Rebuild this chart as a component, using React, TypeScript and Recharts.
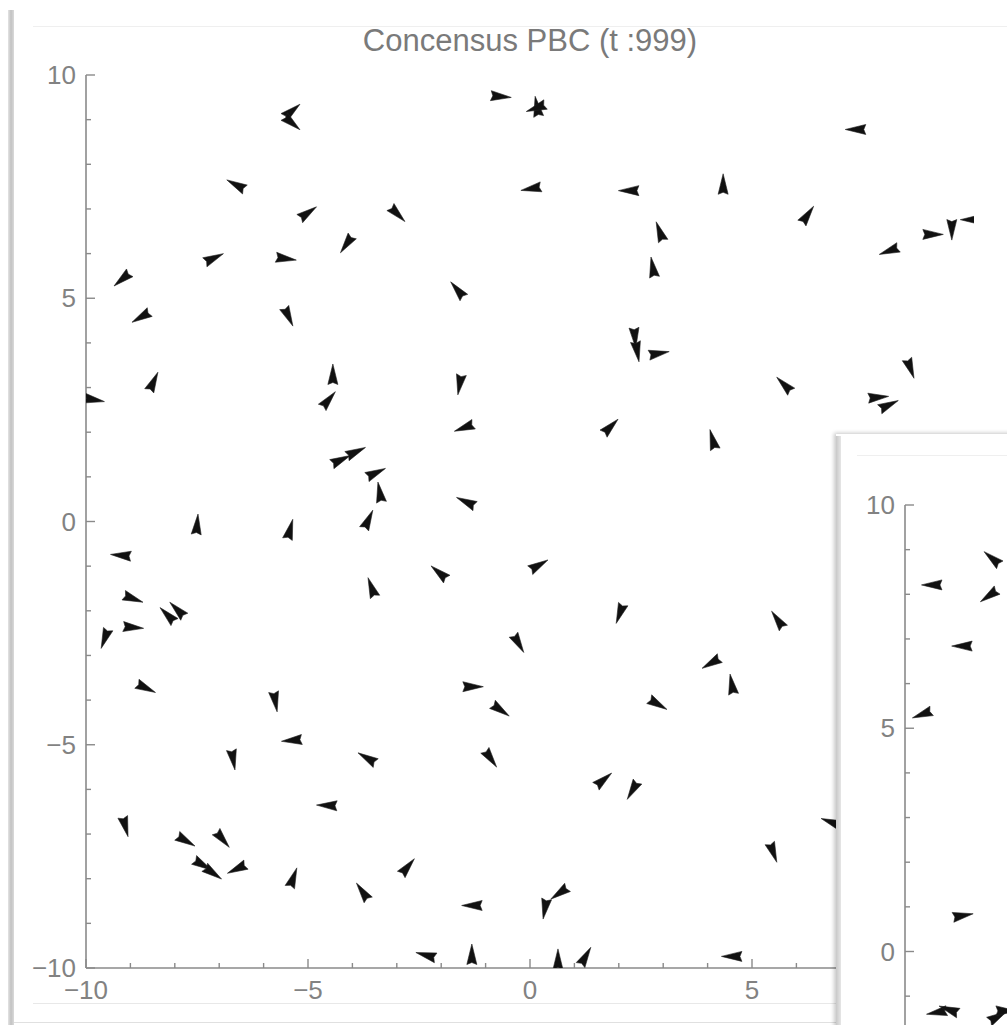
import React from 'react';
import { ScatterChart, Scatter, XAxis, YAxis } from 'recharts';

// ---- main panel (t : 999) ----
const mainX = [
  -5.38, -5.38, -6.6, -7.14, -5.52, -9.17, -8.74, -5.45, -5.02, -0.68,
  0.16, 0.16, 0.05, -3.0, -4.12, -1.62, 7.36, 2.25, 4.35, 6.24,
  2.93, 2.77, 8.11, 9.05, 9.5, 9.95, 2.36, 2.41, 2.88, 5.74,
  8.56, 7.82, 8.06, 1.8, 4.12, -8.49, -9.84, -7.5, -5.41, -9.19,
  -8.96, -8.15, -7.93, -8.96, -9.57, -8.67, -5.74, -4.44, -4.55, -1.58,
  -1.46, -4.28, -3.94, -3.49, -3.38, -3.65, -1.42, -2.03, 0.18, -3.56,
  -0.27, -1.31, -6.69, -5.34, -9.12, -7.77, -6.94, -7.39, -7.16, -6.58,
  -5.34, -0.68, -3.65, -0.9, -4.55, -2.77, -3.76, -1.28, 0.34, 0.68,
  -2.32, -1.31, 0.63, 1.24, 1.64, 2.32, 2.03, 5.59, 4.1, 4.55,
  2.86, 5.47, 4.57, 6.8,
];
const mainY = [
  9.18, 8.94, 7.53, 5.89, 5.89, 5.44, 4.59, 4.61, 6.9, 9.52,
  9.27, 9.27, 7.46, 6.9, 6.23, 5.17, 8.78, 7.41, 7.53, 6.85,
  6.47, 5.67, 6.07, 6.43, 6.56, 6.76, 4.14, 3.83, 3.76, 3.05,
  3.45, 2.78, 2.6, 2.11, 1.81, 3.11, 2.73, -0.09, -0.2, -0.76,
  -1.72, -2.11, -1.99, -2.37, -2.6, -3.72, -4.01, 3.27, 2.71, 3.09,
  2.11, 1.37, 1.55, 1.08, 0.63, 0.02, 0.43, -1.16, -0.99, -1.5,
  -2.71, -3.7, -5.31, -4.9, -6.81, -7.14, -7.1, -7.68, -7.86, -7.77,
  -8.0, -4.21, -5.31, -5.29, -6.36, -7.75, -8.31, -8.6, -8.65, -8.31,
  -9.72, -9.72, -9.83, -9.76, -5.8, -6.0, -2.04, -2.22, -3.16, -3.67,
  -4.08, -7.39, -9.74, -6.74,
];
// heading in degrees (0 = +x, 90 = +y), from the wide end to the pointed end
const mainHeading = [
  40, -40, 152, 25, -8, 220, 210, -65, 35, -5,
  100, 200, 190, -45, 235, 130, 180, 180, 90, 55,
  110, 100, 200, 0, -90, 180, -85, -80, 10, 135,
  -70, 5, 25, 45, 105, 65, -10, 85, 75, 175,
  -20, 135, 135, -5, -110, -25, -80, 90, 50, -100,
  200, 25, 25, 25, 100, 65, 155, 140, 30, 110,
  -60, 0, -80, 185, -75, -30, -50, -30, -35, 205,
  70, -35, 150, -55, 178, 50, 125, 180, -100, 215,
  165, 90, 90, 60, 40, 240, -110, 125, 210, 100,
  -30, -70, 180, 160,
];

// ---- second (overlapping) panel ----
const insetX = [-9.37, -8.02, -8.09, -8.69, -9.59, -8.72, -9.26, -8.99, -7.93, -7.75];
const insetY = [8.21, 8.79, 7.98, 6.84, 5.32, 0.8, -1.36, -1.31, -1.47, -1.33];
const insetHeading = [180, 140, 215, 180, 200, 10, 190, 160, 30, 0];

const frameTicks = [-10, -9, -8, -7, -6, -5, -4, -3, -2, -1, 0, 1, 2, 3, 4, 5, 6, 7, 8, 9, 10];
const majorTicks = [-10, -5, 0, 5, 10];
// labels that are visible (the rest are hidden under the second window / outside the page)
const mainXLabels = [-10, -5, 0, 5];
const mainYLabels = [-10, -5, 0, 5, 10];
const insetXLabels: number[] = [];
const insetYLabels = [0, 5, 10];
const titleText = 'Concensus PBC (t :999)';

const FRAME = '#8a8a8a';
const LABEL = '#828282';
const FONT = '"Liberation Sans", Arial, Helvetica, sans-serif';
const LABEL_SIZE = 26;

const zip = (xs: number[], ys: number[], hs: number[]) =>
  xs.map((x, i) => ({ x, y: ys[i], h: hs[i] }));

const mainData = zip(mainX, mainY, mainHeading);
const insetData = zip(insetX, insetY, insetHeading);

const fmt = (v: number) => (v < 0 ? '\u2212' + Math.abs(v) : String(v));
const isMajor = (v: number) => majorTicks.includes(v);

const Glyph = (props: any) => {
  const { cx, cy, payload } = props;
  if (cx == null || cy == null) return null;
  const t = (payload.h * Math.PI) / 180;
  const ux = Math.cos(t);
  const uy = -Math.sin(t);
  const px = -uy;
  const py = ux;
  const tip = 11.5;
  const back = 9;
  const half = 5;
  const notch = 7;
  const pts = [
    [cx + ux * tip, cy + uy * tip],
    [cx - ux * back + px * half, cy - uy * back + py * half],
    [cx - ux * notch, cy - uy * notch],
    [cx - ux * back - px * half, cy - uy * back - py * half],
  ];
  return (
    <polygon
      points={pts.map((p) => p.map((n) => n.toFixed(2)).join(',')).join(' ')}
      fill="#111"
      stroke="#222"
      strokeWidth={0.6}
      strokeLinejoin="round"
    />
  );
};

const makeBottomTick = (labels: number[]) => (props: any) => {
  const { x, y, payload } = props;
  const v = payload.value;
  const major = isMajor(v);
  return (
    <g>
      <line x1={x} x2={x} y1={y} y2={y - (major ? 9 : 5)} stroke={FRAME} strokeWidth={1.4} />
      {labels.includes(v) ? (
        <text x={x} y={y + 31} textAnchor="middle" fill={LABEL} fontSize={LABEL_SIZE} fontFamily={FONT}>
          {fmt(v)}
        </text>
      ) : null}
    </g>
  );
};

const TopTick = (props: any) => {
  const { x, y, payload } = props;
  const major = isMajor(payload.value);
  return <line x1={x} x2={x} y1={y} y2={y + (major ? 9 : 5)} stroke={FRAME} strokeWidth={1.4} />;
};

const makeLeftTick = (labels: number[]) => (props: any) => {
  const { x, y, payload } = props;
  const v = payload.value;
  const major = isMajor(v);
  return (
    <g>
      <line x1={x} x2={x + (major ? 9 : 5)} y1={y} y2={y} stroke={FRAME} strokeWidth={1.4} />
      {labels.includes(v) ? (
        <text x={x - 10} y={y + 9} textAnchor="end" fill={LABEL} fontSize={LABEL_SIZE} fontFamily={FONT}>
          {fmt(v)}
        </text>
      ) : null}
    </g>
  );
};

const RightTick = (props: any) => {
  const { x, y, payload } = props;
  const major = isMajor(payload.value);
  return <line x1={x} x2={x - (major ? 9 : 5)} y1={y} y2={y} stroke={FRAME} strokeWidth={1.4} />;
};

const axisLine = { stroke: FRAME, strokeWidth: 1.6 };

const Panel = ({
  data,
  left,
  top,
  xLabels,
  yLabels,
}: {
  data: any[];
  left: number;
  top: number;
  xLabels: number[];
  yLabels: number[];
}) => (
  <div style={{ position: 'absolute', left, top }}>
    <ScatterChart width={1007} height={1025} margin={{ top: 75, right: 33, bottom: 17, left: 26 }}>
      <XAxis
        xAxisId="b"
        type="number"
        dataKey="x"
        domain={[-10, 10]}
        ticks={frameTicks}
        interval={0}
        allowDataOverflow
        orientation="bottom"
        height={40}
        tickSize={0}
        tickMargin={0}
        tickLine={false}
        axisLine={axisLine}
        tick={makeBottomTick(xLabels)}
      />
      <XAxis
        xAxisId="t"
        type="number"
        domain={[-10, 10]}
        ticks={frameTicks}
        interval={0}
        allowDataOverflow
        orientation="top"
        height={0}
        tickSize={0}
        tickMargin={0}
        tickLine={false}
        axisLine={axisLine}
        tick={TopTick}
      />
      <YAxis
        yAxisId="l"
        type="number"
        dataKey="y"
        domain={[-10, 10]}
        ticks={frameTicks}
        interval={0}
        allowDataOverflow
        orientation="left"
        width={60}
        tickSize={0}
        tickMargin={0}
        tickLine={false}
        axisLine={axisLine}
        tick={makeLeftTick(yLabels)}
      />
      <YAxis
        yAxisId="r"
        type="number"
        domain={[-10, 10]}
        ticks={frameTicks}
        interval={0}
        allowDataOverflow
        orientation="right"
        width={0}
        tickSize={0}
        tickMargin={0}
        tickLine={false}
        axisLine={axisLine}
        tick={RightTick}
      />
      <Scatter xAxisId="b" yAxisId="l" data={data} shape={Glyph} isAnimationActive={false} />
    </ScatterChart>
  </div>
);

export default function App() {
  return (
    <div
      style={{
        position: 'fixed',
        left: 0,
        top: 0,
        width: 1007,
        height: 1025,
        overflow: 'hidden',
        background: '#fff',
        fontFamily: FONT,
      }}
    >
      {/* main window chrome */}
      <div
        style={{
          position: 'absolute',
          left: 8,
          top: 10,
          width: 6,
          bottom: 0,
          background: 'linear-gradient(to right, #e4e4e4, #c2c2c2, #dadada)',
        }}
      />
      <div style={{ position: 'absolute', left: 33, right: 0, top: 26, height: 1, background: '#efefef' }} />
      <div style={{ position: 'absolute', left: 33, width: 805, top: 1003, height: 1, background: '#e8e8e8' }} />
      <div style={{ position: 'absolute', left: 14, width: 824, top: 1022, height: 1, background: '#e0e0e0' }} />
      <div
        style={{
          position: 'absolute',
          left: 0,
          width: 1060,
          top: 23,
          textAlign: 'center',
          color: '#7a7a7a',
          fontSize: 31,
          fontFamily: FONT,
          lineHeight: '36px',
        }}
      >
        {titleText}
      </div>
      <Panel data={mainData} left={0} top={0} xLabels={mainXLabels} yLabels={mainYLabels} />

      {/* second window overlapping at bottom right */}
      <div
        style={{
          position: 'absolute',
          left: 836,
          top: 434,
          width: 400,
          height: 800,
          background: '#fff',
          boxShadow: '-2px -1px 4px rgba(0,0,0,0.22)',
        }}
      />
      <div
        style={{
          position: 'absolute',
          left: 836,
          top: 436,
          width: 5,
          bottom: 0,
          background: 'linear-gradient(to right, #c8c8c8, #e6e6e6)',
        }}
      />
      <div style={{ position: 'absolute', left: 857, right: 0, top: 455, height: 1, background: '#efefef' }} />
      <Panel data={insetData} left={819} top={430} xLabels={insetXLabels} yLabels={insetYLabels} />
    </div>
  );
}
